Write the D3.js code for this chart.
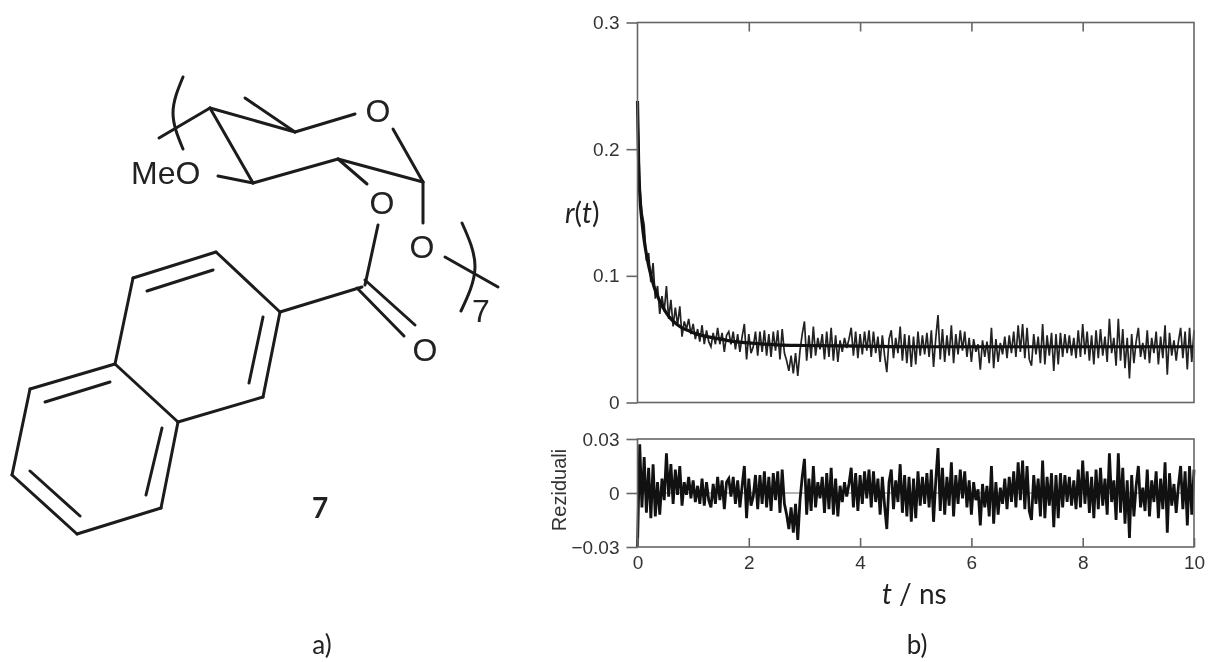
<!DOCTYPE html>
<html>
<head>
<meta charset="utf-8">
<title>Anizotropija fluorescencije</title>
<script src="https://cdn.jsdelivr.net/npm/d3@7"></script>
<style>
    body { margin: 0; background: #fff; }
    svg { display: block; filter: blur(0.45px); }
    text { fill: #2b2b2b; }
    .tick-label text, .tick text { font-family: "Liberation Sans", Arial, sans-serif; font-size: 19px; fill: #333; }
    .axis path, .axis line { stroke: #666; stroke-width: 1.6px; }
    .frame { fill: none; stroke: #666; stroke-width: 1.6px; }
    .bond { fill: none; stroke: #1c1c1c; stroke-width: 3px; stroke-linecap: round; stroke-linejoin: round; }
    .atom { font-family: "Liberation Sans", Arial, sans-serif; font-size: 32px; fill: #222; }
    .caption { font-family: Lato, "Open Sans", sans-serif; fill: #222; }
</style>
</head>
<body>
<div id="chart"></div>
<script>
// Time step of the measured traces, ns
const timeStep = 0.04;

// r(t) measured, in units of 0.001, one value per timeStep
const measuredValues = [
    238,172,150,140,112,118,95,110,82,92,70,84,72,92,66,81,60,75,61,76,52,64,58,66,54,
    62,50,58,48,61,46,57,48,44,55,46,59,46,55,40,53,56,46,56,42,54,40,52,62,34,
    54,39,44,56,37,56,40,57,37,54,36,56,41,57,34,58,39,33,25,37,23,39,21,41,54,
    64,33,53,35,60,37,51,42,54,34,56,36,59,33,53,32,49,40,51,43,50,59,37,56,35,
    54,38,56,41,57,36,56,39,52,32,53,37,24,50,57,35,51,39,60,33,54,31,53,28,52,
    30,56,37,53,38,55,36,57,28,51,69,34,58,32,53,37,61,31,54,38,57,41,56,36,51,
    32,50,40,46,26,49,36,48,31,59,27,50,32,47,38,52,35,53,39,56,36,61,40,62,35,
    59,34,29,54,38,52,31,62,30,53,37,55,25,54,30,55,36,54,39,53,37,51,35,57,36,
    62,38,56,33,53,30,57,35,58,37,52,32,66,39,51,29,66,33,58,27,51,19,54,31,48,
    59,36,47,34,57,31,51,39,56,30,52,35,61,22,55,37,49,33,48,59,35,56,26,59,32,57
];

// Residuals, same units and same time step
const residualValues = [
    -30,27,-8,20,-11,14,-14,16,-13,6,-12,8,-4,22,-2,16,-6,13,-1,15,-7,6,-1,9,-3,
    7,-5,4,-6,8,-7,6,-4,-8,5,-6,9,-4,7,-9,6,8,-2,9,-6,7,-8,4,15,-14,
    8,-7,-2,10,-9,10,-6,12,-8,9,-10,11,-4,12,-11,13,-6,-12,-20,-8,-22,-6,-26,-4,9,
    19,-12,8,-10,15,-8,6,-3,9,-11,11,-9,14,-12,8,-13,4,-5,6,-2,5,14,-8,11,-10,
    10,-6,12,-3,13,-8,12,-5,8,-12,9,-7,-20,6,13,-9,7,-5,16,-11,10,-13,9,-16,8,
    -14,12,-7,9,-6,11,-8,13,-16,7,25,-10,14,-12,9,-7,17,-13,10,-6,13,-3,12,-8,7,
    -12,6,-4,2,-18,5,-8,4,-13,15,-17,6,-12,3,-6,8,-9,9,-5,12,-8,17,-4,18,-9,
    15,-10,-15,10,-6,8,-13,18,-14,9,-7,11,-19,10,-14,11,-8,10,-5,9,-7,7,-9,13,-8,
    18,-6,12,-11,9,-14,13,-9,14,-7,8,-12,22,-5,7,-15,22,-11,14,-17,7,-25,10,-13,4,
    15,-8,3,-10,13,-13,7,-5,12,-14,8,-9,17,-22,11,-7,5,-11,4,15,-9,12,-18,15,-12,13
];

// Fitted decay curve, read at these times
const fitTimes = [0,0.02,0.04,0.08,0.12,0.16,0.2,0.25,0.3,0.4,0.5,0.6,0.7,0.8,0.9,1,1.25,1.5,1.75,2,2.5,3,4,5,6,8,10];
const fitValues = [0.238,0.19,0.165,0.143,0.128,0.117,0.108,0.099,0.091,0.08,0.072,0.066,0.062,0.059,0.057,0.055,0.052,0.05,0.048,0.047,0.0455,0.045,0.0445,0.044,0.044,0.044,0.044];

const timeTicks = [0, 2, 4, 6, 8, 10];
const innerTimeTicks = [2, 4, 6, 8];
const decayTicks = [0, 0.1, 0.2, 0.3];
const decayTickLabels = ["0", "0.1", "0.2", "0.3"];
const residualTicks = [-0.03, 0, 0.03];
const residualTickLabels = ["\u22120.03", "0", "0.03"];

// Structure 7, drawn in page pixels: [x1, y1, x2, y2]
const structureBonds = [
    [159,138,210,108],[210,108,295,132],[245,98,295,132],[295,132,355,114],
    [393,129,423,182],[423,182,338,159],[338,159,253,183],[253,183,210,108],
    [218,176,253,183],[338,159,367,184],[423,182,423,223],[445,257,498,287],
    [378,225,365,285],[362,287,280,312],[365,280,415,325],[357,288,404,336],
    // naphthalene
    [216,252,133,278],[133,278,115,364],[115,364,178,422],[178,422,263,397],
    [263,397,280,312],[280,312,216,252],[213,270,147,291],[263,317,249,383],
    [115,364,30,389],[30,389,12,475],[12,475,77,534],[77,534,161,508],
    [161,508,178,422],[110,382,45,402],[30,471,80,516],[162,428,146,495]
];
const structureBrackets = [
    [[183,77],[173,113],[183,149]],
    [[462,223],[475,267],[461,311]]
];
const structureAtoms = [
    ["O", 378, 122], ["MeO", 131, 184], ["O", 382, 214], ["O", 422, 258], ["O", 425, 361], ["7", 472, 322]
];

const width = 1210;
const height = 662;
const plotLeft = 637.5;
const plotRight = 1194;

const svg = d3.select("#chart").append("svg")
    .attr("width", width)
    .attr("height", height);

const x = d3.scaleLinear().domain([0, 10]).range([plotLeft, plotRight]);
const yDecay = d3.scaleLinear().domain([0, 0.3]).range([402.5, 22.5]);
const yResidual = d3.scaleLinear().domain([-0.03, 0.03]).range([547, 439]);

const measuredLine = d3.line()
    .x((d, i) => x(i * timeStep))
    .y(d => yDecay(d / 1000));
const residualLine = d3.line()
    .x((d, i) => x(i * timeStep))
    .y(d => yResidual(d / 1000));
const fitLine = d3.line()
    .x((d, i) => x(fitTimes[i]))
    .y(d => yDecay(d))
    .curve(d3.curveMonotoneX);

// Top panel
svg.append("path")
    .attr("d", measuredLine(measuredValues))
    .attr("fill", "none")
    .attr("stroke", "#222")
    .attr("stroke-width", 1.7);
svg.append("path")
    .attr("d", fitLine(fitValues))
    .attr("fill", "none")
    .attr("stroke", "#111")
    .attr("stroke-width", 3.2);
svg.append("rect")
    .attr("class", "frame")
    .attr("x", plotLeft)
    .attr("y", yDecay(0.3))
    .attr("width", plotRight - plotLeft)
    .attr("height", yDecay(0) - yDecay(0.3));

svg.append("g")
    .attr("class", "axis")
    .attr("transform", `translate(${plotLeft},0)`)
    .call(d3.axisLeft(yDecay)
        .tickValues(decayTicks)
        .tickFormat((d, i) => decayTickLabels[i])
        .tickSize(11)
        .tickPadding(7))
    .select(".domain").remove();
svg.append("g")
    .attr("class", "axis")
    .attr("transform", `translate(0,${yDecay(0.3)})`)
    .call(d3.axisTop(x)
        .tickValues(innerTimeTicks)
        .tickFormat("")
        .tickSize(-9))
    .select(".domain").remove();

// Bottom panel
svg.append("line")
    .attr("x1", x(0))
    .attr("x2", x(10))
    .attr("y1", yResidual(0))
    .attr("y2", yResidual(0))
    .attr("stroke", "#666")
    .attr("stroke-width", 1);
svg.append("path")
    .attr("d", residualLine(residualValues))
    .attr("fill", "none")
    .attr("stroke", "#111")
    .attr("stroke-width", 2.8);
svg.append("rect")
    .attr("class", "frame")
    .attr("x", plotLeft)
    .attr("y", yResidual(0.03))
    .attr("width", plotRight - plotLeft)
    .attr("height", yResidual(-0.03) - yResidual(0.03));

svg.append("g")
    .attr("class", "axis")
    .attr("transform", `translate(${plotLeft},0)`)
    .call(d3.axisLeft(yResidual)
        .tickValues(residualTicks)
        .tickFormat((d, i) => residualTickLabels[i])
        .tickSize(11)
        .tickPadding(7))
    .select(".domain").remove();
svg.append("g")
    .attr("class", "axis")
    .attr("transform", `translate(0,${yResidual(-0.03)})`)
    .call(d3.axisBottom(x)
        .tickValues(timeTicks)
        .tickFormat(d => d)
        .tickSize(-9)
        .tickPadding(9))
    .select(".domain").remove();

// Axis titles
const decayTitle = svg.append("text")
    .attr("class", "caption")
    .attr("x", 565)
    .attr("y", 223)
    .style("font-size", "28px");
decayTitle.append("tspan").attr("font-style", "italic").text("r");
decayTitle.append("tspan").text("(");
decayTitle.append("tspan").attr("font-style", "italic").text("t");
decayTitle.append("tspan").text(")");

const timeTitle = svg.append("text")
    .attr("class", "caption")
    .attr("x", 882)
    .attr("y", 604)
    .style("font-size", "28px");
timeTitle.append("tspan").attr("font-style", "italic").text("t");
timeTitle.append("tspan").text(" / ns");

svg.append("text")
    .attr("transform", "translate(566,490) rotate(-90)")
    .attr("text-anchor", "middle")
    .style("font-family", "'Liberation Sans', Arial, sans-serif")
    .style("font-size", "20px")
    .style("fill", "#333")
    .text("Reziduali");

// Structure 7
svg.append("g").selectAll("line")
    .data(structureBonds)
    .join("line")
    .attr("class", "bond")
    .attr("x1", d => d[0])
    .attr("y1", d => d[1])
    .attr("x2", d => d[2])
    .attr("y2", d => d[3]);

const bracketLine = d3.line().curve(d3.curveNatural);
svg.append("g").selectAll("path")
    .data(structureBrackets)
    .join("path")
    .attr("class", "bond")
    .attr("d", d => bracketLine(d));

svg.append("g").selectAll("text")
    .data(structureAtoms)
    .join("text")
    .attr("class", "atom")
    .attr("x", d => d[1])
    .attr("y", d => d[2])
    .attr("text-anchor", d => d[0] == "MeO" ? "start" : (d[0] == "7" ? "start" : "middle"))
    .text(d => d[0]);

svg.append("text")
    .attr("class", "caption")
    .attr("x", 320)
    .attr("y", 518)
    .attr("text-anchor", "middle")
    .attr("font-weight", "bold")
    .style("font-size", "28px")
    .text("7");

// Panel letters
svg.append("text")
    .attr("class", "caption")
    .attr("x", 322)
    .attr("y", 654)
    .attr("text-anchor", "middle")
    .style("font-size", "26px")
    .text("a)");
svg.append("text")
    .attr("class", "caption")
    .attr("x", 917)
    .attr("y", 654)
    .attr("text-anchor", "middle")
    .style("font-size", "26px")
    .text("b)");
</script>
</body>
</html>
